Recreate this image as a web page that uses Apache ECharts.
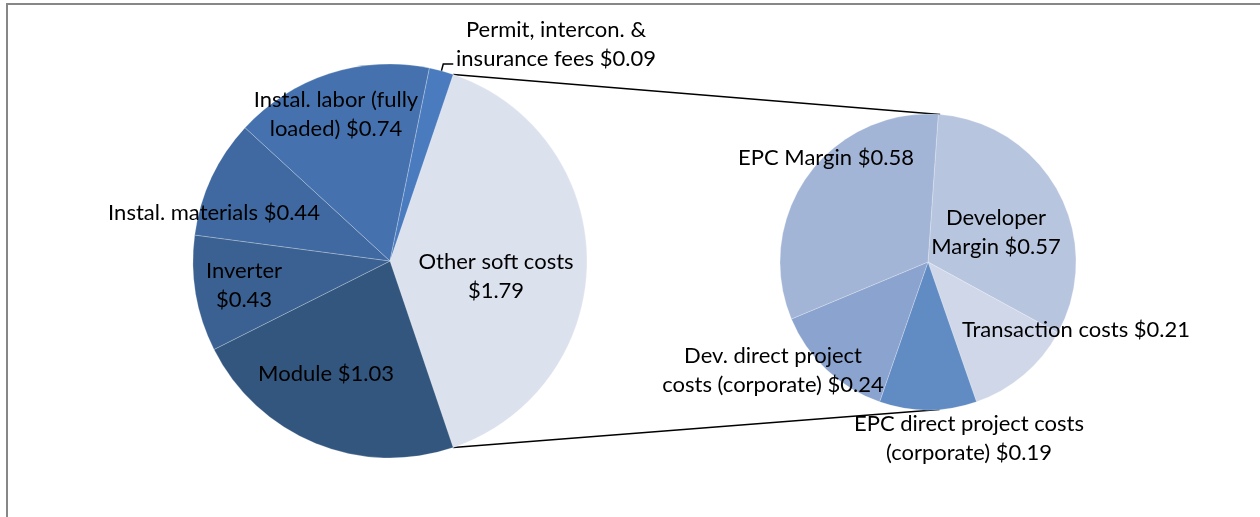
<!DOCTYPE html>
<html>
<head>
<meta charset="utf-8">
<title>Soft cost breakdown</title>
<script src="https://cdn.jsdelivr.net/npm/echarts@6/dist/echarts.min.js"></script>
<style>
  html, body { margin: 0; padding: 0; background: #ffffff; }
  #chart { width: 1260px; height: 517px; }
</style>
</head>
<body>
<div id="chart"></div>
<script>
// main pie: hardware + soft costs
const mainNames = ['Other soft costs', 'Module', 'Inverter', 'Instal. materials', 'Instal. labor (fully loaded)', 'Permit, intercon. & insurance fees']
const mainValues = [1.79, 1.03, 0.43, 0.44, 0.74, 0.09]
const mainLabels = ['Other soft costs\n$1.79', 'Module $1.03', 'Inverter\n$0.43', 'Instal. materials $0.44', 'Instal. labor (fully\nloaded) $0.74', 'Permit, intercon. &\ninsurance fees $0.09']

// secondary pie: what the "other soft costs" slice is made of
const subNames = ['Developer Margin', 'Transaction costs', 'EPC direct project costs (corporate)', 'Dev. direct project costs (corporate)', 'EPC Margin']
const subValues = [0.57, 0.21, 0.19, 0.24, 0.58]
const subLabels = ['Developer\nMargin $0.57', 'Transaction costs $0.21', 'EPC direct project costs\n(corporate) $0.19', 'Dev. direct project\ncosts (corporate) $0.24', 'EPC Margin $0.58']

// layout / style (kept apart from the data)
const mainColors = ['#dce1ee', '#33567f', '#3a6191', '#3f69a0', '#4572ae', '#4a7bbe']
const subColors = ['#b8c5df', '#cfd7e9', '#618bc3', '#8ba3cf', '#a3b5d6']
const mainCenter = [390, 261]
const mainRadius = 197
const subCenter = [928, 262]
const subRadius = 148
const subStartAngle = 86
const mainLabelPos = [[496, 276], [326, 374], [244, 285], [214, 213], [336, 114], [556, 44]]
const subLabelPos = [[996, 232], [1076, 330], [969, 438], [773, 370], [826, 158]]

const font = 'Lato, "Open Sans", sans-serif'
const mainTotal = mainValues.reduce((a, b) => a + b, 0)
// first slice is centred on the right-hand side
const mainStartAngle = 180 * mainValues[0] / mainTotal

const rad = (deg) => deg * Math.PI / 180
const polar = (c, r, deg) => [c[0] + r * Math.cos(rad(deg)), c[1] - r * Math.sin(rad(deg))]

// leader for the small permit slice
const permitIdx = mainNames.length - 1
const permitMid = mainStartAngle - 360 * (mainTotal - mainValues[permitIdx] / 2) / mainTotal
const permitA = polar(mainCenter, mainRadius, permitMid)
const permitB = polar(mainCenter, mainRadius + 7, permitMid)
const permitLine = [permitA, permitB, [permitB[0] + 10, permitB[1]]]

// tangent point on the secondary pie for a line coming from p
const tangent = (p, upper) => {
  const dx = p[0] - subCenter[0]
  const dy = subCenter[1] - p[1]
  const d = Math.sqrt(dx * dx + dy * dy)
  const base = Math.atan2(dy, dx) * 180 / Math.PI
  const off = Math.acos(subRadius / d) * 180 / Math.PI
  return polar(subCenter, subRadius, upper ? base - off : base + off)
}
const topStart = polar(mainCenter, mainRadius, mainStartAngle)
const bottomStart = polar(mainCenter, mainRadius, -mainStartAngle)
const topEnd = tangent(topStart, true)
const bottomEnd = tangent(bottomStart, false)

const labelText = {
  color: '#000000',
  fontFamily: font,
  fontSize: 22,
  lineHeight: 29,
  align: 'center',
}

const mainData = mainValues.map((v, i) => {
  const item = {
    value: v,
    name: mainNames[i],
    itemStyle: { color: mainColors[i] },
    label: { formatter: mainLabels[i] },
  }
  if (i === permitIdx) {
    item.label.position = 'outside'
    item.labelLine = { show: true, lineStyle: { color: '#000000', width: 1.5 } }
  }
  return item
})

const subData = subValues.map((v, i) => ({
  value: v,
  name: subNames[i],
  itemStyle: { color: subColors[i] },
  label: { formatter: subLabels[i] },
}))

const chart = echarts.init(document.getElementById('chart'), null, { renderer: 'canvas' })

chart.setOption({
  animation: false,
  backgroundColor: '#ffffff',
  graphic: [
    {
      type: 'polyline',
      shape: { points: [[7, 517], [7, 4], [1260, 4]] },
      style: { stroke: '#878787', lineWidth: 2, fill: null },
      z: 10,
    },
    {
      type: 'line',
      shape: { x1: topStart[0], y1: topStart[1], x2: topEnd[0], y2: topEnd[1] },
      style: { stroke: '#000000', lineWidth: 1.5 },
    },
    {
      type: 'line',
      shape: { x1: bottomStart[0], y1: bottomStart[1], x2: bottomEnd[0], y2: bottomEnd[1] },
      style: { stroke: '#000000', lineWidth: 1.5 },
    },
  ],
  series: [
    {
      name: 'main',
      type: 'pie',
      center: mainCenter,
      radius: mainRadius,
      startAngle: mainStartAngle,
      clockwise: true,
      avoidLabelOverlap: false,
      emphasis: { disabled: true },
      itemStyle: { borderColor: 'rgba(255,255,255,0.4)', borderWidth: 0.6 },
      label: Object.assign({ show: true, position: 'inside' }, labelText),
      labelLine: { show: false, length: 7, length2: 10 },
      labelLayout: (params) => {
        const p = mainLabelPos[params.dataIndex]
        const out = { x: p[0], y: p[1], align: 'center', verticalAlign: 'middle' }
        if (params.dataIndex === permitIdx) {
          out.labelLinePoints = permitLine
        }
        return out
      },
      data: mainData,
    },
    {
      name: 'sub',
      type: 'pie',
      center: subCenter,
      radius: subRadius,
      startAngle: subStartAngle,
      clockwise: true,
      avoidLabelOverlap: false,
      emphasis: { disabled: true },
      itemStyle: { borderColor: 'rgba(255,255,255,0.4)', borderWidth: 0.6 },
      label: Object.assign({ show: true, position: 'inside' }, labelText),
      labelLine: { show: false },
      labelLayout: (params) => {
        const p = subLabelPos[params.dataIndex]
        return { x: p[0], y: p[1], align: 'center', verticalAlign: 'middle' }
      },
      data: subData,
    },
  ],
})

window.addEventListener('resize', () => chart.resize())
</script>
</body>
</html>
